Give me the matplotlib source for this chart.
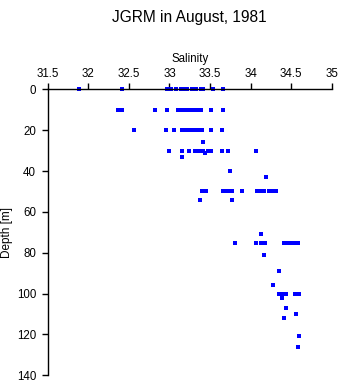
import matplotlib.pyplot as plt
import numpy as np

plt.rcParams['font.family'] = ['Liberation Sans', 'DejaVu Sans']

# salinity readings grouped by depth [m]
sal_0 = [31.88, 32.42, 32.97, 33.02, 33.08, 33.14, 33.19, 33.22, 33.28, 33.33, 33.39, 33.41, 33.54, 33.66]
sal_10 = [32.37, 32.39, 32.42, 32.82, 32.97, 33.10, 33.13, 33.15, 33.18, 33.20, 33.23, 33.25, 33.28,
          33.30, 33.33, 33.35, 33.39, 33.51, 33.66]
sal_20 = [32.56, 32.96, 33.05, 33.15, 33.20, 33.25, 33.28, 33.30, 33.33, 33.35, 33.40, 33.51, 33.65]
sal_30 = [33.00, 33.15, 33.24, 33.31, 33.34, 33.36, 33.39, 33.41, 33.47, 33.51, 33.65, 33.72, 34.06]
sal_50 = [33.40, 33.45, 33.66, 33.70, 33.74, 33.77, 33.89, 34.08, 34.13, 34.15, 34.17, 34.23, 34.27, 34.31]
sal_75 = [33.81, 34.06, 34.13, 34.16, 34.18, 34.41, 34.44, 34.47, 34.49, 34.51, 34.53, 34.58]
sal_100 = [34.35, 34.40, 34.43, 34.55, 34.58, 34.60]
# single readings at other depths
odd_depth = [26, 31, 33, 40, 43, 54, 54, 71, 81, 89, 96, 102, 107, 110, 112, 121, 126]
odd_sal = [33.41, 33.44, 33.16, 33.74, 34.19, 33.38, 33.77, 34.13, 34.17, 34.35, 34.27, 34.39,
           34.43, 34.56, 34.41, 34.60, 34.58]

sal = sal_0 + sal_10 + sal_20 + sal_30 + sal_50 + sal_75 + sal_100 + odd_sal
depth = ([0]*len(sal_0) + [10]*len(sal_10) + [20]*len(sal_20) + [30]*len(sal_30)
         + [50]*len(sal_50) + [75]*len(sal_75) + [100]*len(sal_100) + odd_depth)

xticks = [31.5, 32, 32.5, 33, 33.5, 34, 34.5, 35]
xticklabels = ['31.5', '32', '32.5', '33', '33.5', '34', '34.5', '35']
yticks = [0, 20, 40, 60, 80, 100, 120, 140]

fig = plt.figure(figsize=(3.41, 3.84), dpi=100)
ax = fig.add_axes([0.140, 0.0227, 0.833, 0.7447])

ax.plot(sal, depth, ls='', marker='s', markersize=2.3, color='#0000ff',
        markeredgewidth=0, clip_on=False)

ax.set_xlim(31.5, 35)
ax.set_ylim(140, 0)
ax.xaxis.tick_top()
ax.xaxis.set_label_position('top')
ax.set_xticks(xticks)
ax.set_xticklabels(xticklabels)
ax.set_yticks(yticks)
ax.tick_params(axis='both', direction='out', length=4.3, width=1, labelsize=8.3, pad=2.5)
ax.tick_params(axis='y', pad=4)
for s in ['right', 'bottom']:
    ax.spines[s].set_visible(False)
for s in ['top', 'left']:
    ax.spines[s].set_linewidth(1)

ax.set_xlabel('Salinity', fontsize=8.3, labelpad=4)
# y label placed by hand, close to the figure edge like the original
fig.text(7 / 341, 0.395, 'Depth [m]', rotation=90, ha='center', va='center', fontsize=8.5)
fig.text(0.556, 0.975, 'JGRM in August, 1981', ha='center', va='top', fontsize=11.2)

fig.savefig('out.png', dpi=100)
